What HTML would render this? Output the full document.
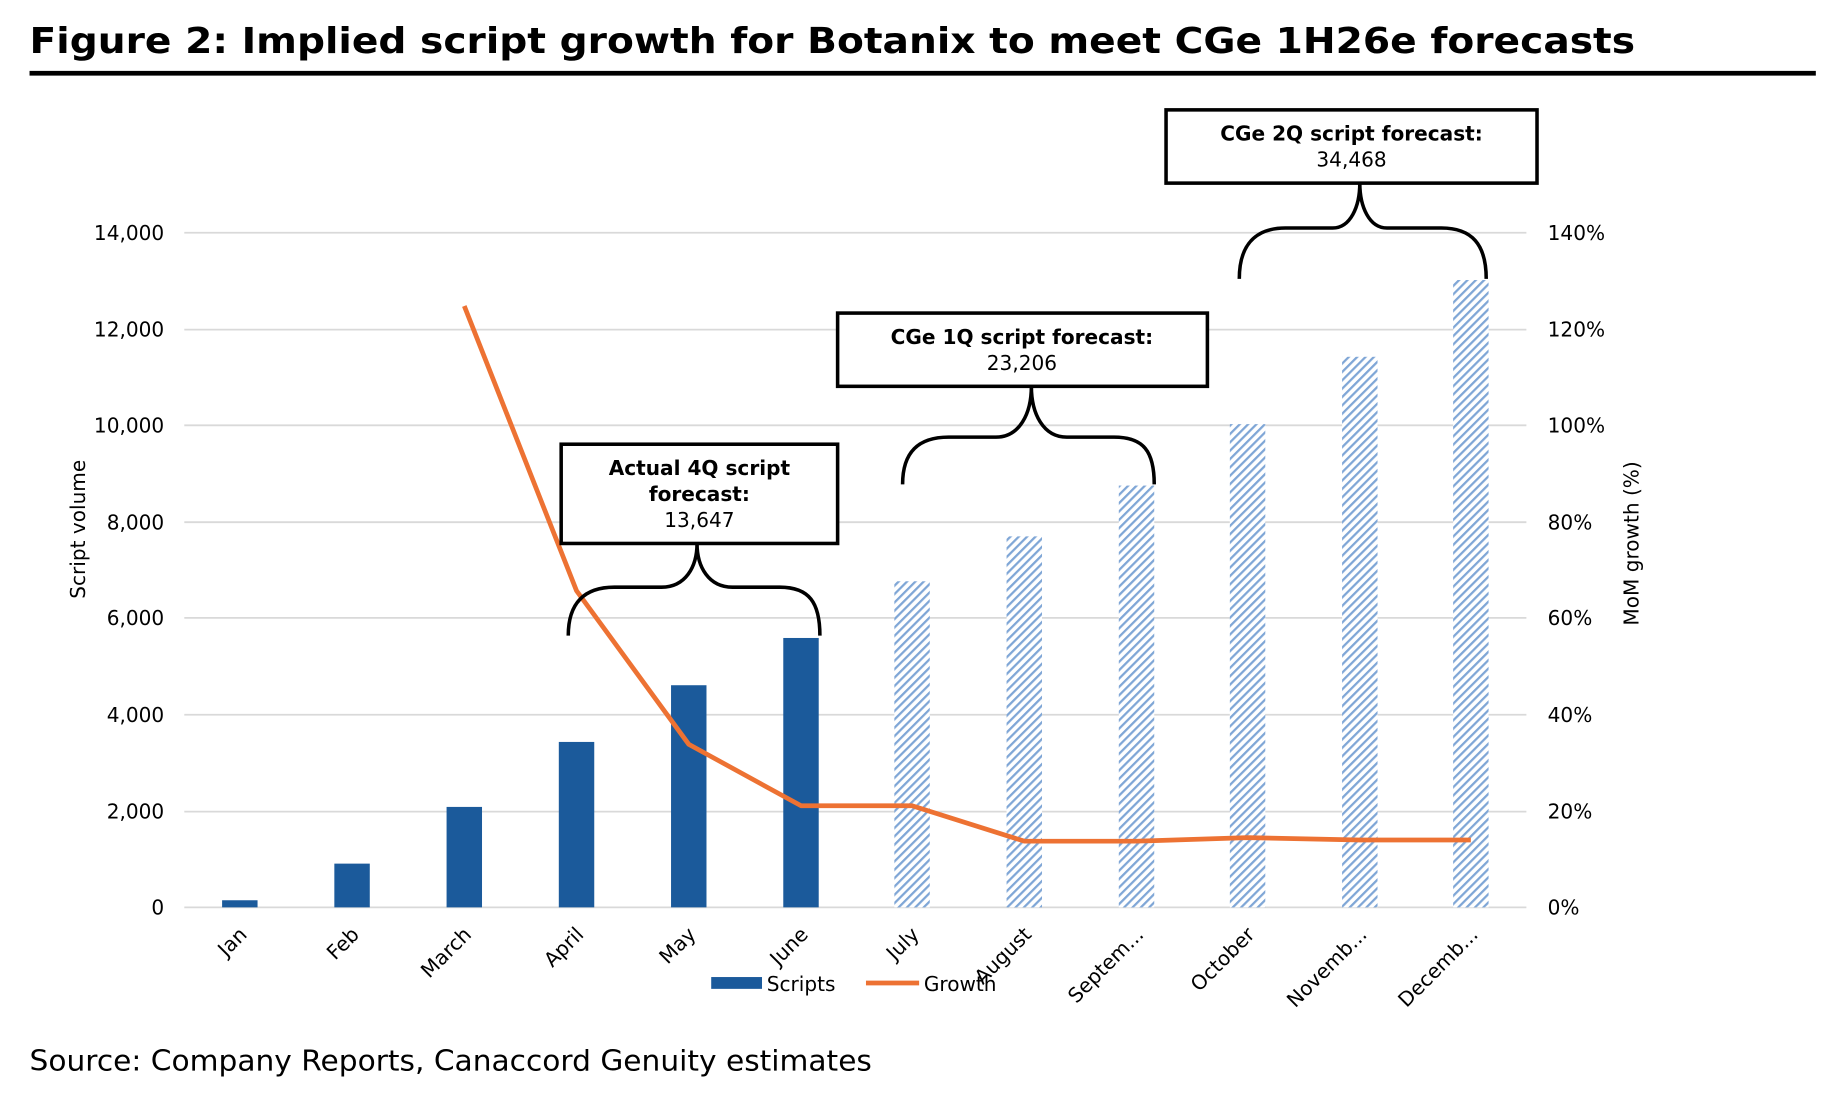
<!DOCTYPE html>
<html><head><meta charset="utf-8"><style>
html,body{margin:0;padding:0;background:#fff;width:1843px;height:1107px;overflow:hidden}
svg{display:block}
text{font-family:"DejaVu Sans","Liberation Sans",sans-serif}
</style></head><body>
<svg width="1843" height="1107" viewBox="0 0 1560 937" preserveAspectRatio="none" xmlns="http://www.w3.org/2000/svg">
<defs>
<pattern id="h" width="5" height="5" patternUnits="userSpaceOnUse" patternTransform="rotate(45)">
<rect width="5" height="5" fill="#fff"/>
<rect x="0" y="0" width="1.9" height="5" fill="#7fa6d6"/>
</pattern>
</defs>
<text x="25" y="45" font-size="30" font-weight="bold" textLength="1359" lengthAdjust="spacingAndGlyphs">Figure 2: Implied script growth for Botanix to meet CGe 1H26e forecasts</text>
<rect x="25" y="60" width="1512" height="4" fill="#000"/>
<g stroke="#d9d9d9" stroke-width="1.5">
<line x1="156" x2="1292" y1="197" y2="197"/>
<line x1="156" x2="1292" y1="279" y2="279"/>
<line x1="156" x2="1292" y1="360" y2="360"/>
<line x1="156" x2="1292" y1="442" y2="442"/>
<line x1="156" x2="1292" y1="523" y2="523"/>
<line x1="156" x2="1292" y1="605" y2="605"/>
<line x1="156" x2="1292" y1="687" y2="687"/>
<line x1="156" x2="1292" y1="768" y2="768"/>
</g>
<g font-size="17" text-anchor="end" fill="#000">
<text x="139" y="203">14,000</text><text x="139" y="285">12,000</text><text x="139" y="366">10,000</text>
<text x="139" y="448">8,000</text><text x="139" y="529">6,000</text><text x="139" y="611">4,000</text>
<text x="139" y="693">2,000</text><text x="139" y="774">0</text>
</g>
<g font-size="17" fill="#000">
<text x="1310" y="203">140%</text><text x="1310" y="285">120%</text><text x="1310" y="366">100%</text>
<text x="1310" y="448">80%</text><text x="1310" y="529">60%</text><text x="1310" y="611">40%</text>
<text x="1310" y="693">20%</text><text x="1310" y="774">0%</text>
</g>
<text transform="translate(72,448) rotate(-90)" font-size="17" text-anchor="middle">Script volume</text>
<text transform="translate(1387,460) rotate(-90)" font-size="17" text-anchor="middle">MoM growth (%)</text>
<g fill="#1b5a9b">
<rect x="188" y="762" width="30" height="6"/>
<rect x="283" y="731" width="30" height="37"/>
<rect x="378" y="683" width="30" height="85"/>
<rect x="473" y="628" width="30" height="140"/>
<rect x="568" y="580" width="30" height="188"/>
<rect x="663" y="540" width="30" height="228"/>
</g>
<g fill="url(#h)">
<rect x="757" y="492" width="30" height="276"/>
<rect x="852" y="454" width="30" height="314"/>
<rect x="947" y="411" width="30" height="357"/>
<rect x="1041" y="359" width="30" height="409"/>
<rect x="1136" y="302" width="30" height="466"/>
<rect x="1230" y="237" width="30" height="531"/>
</g>
<polyline fill="none" stroke="#ed7233" stroke-width="4" stroke-linejoin="round" points="393,259 488,500 583,630 678,682 772,682 867,712 962,712 1056,709 1151,711 1245,711"/>
<g font-size="17" text-anchor="end" fill="#000">
<text transform="translate(210,792) rotate(-45)">Jan</text>
<text transform="translate(305,792) rotate(-45)">Feb</text>
<text transform="translate(400,792) rotate(-45)">March</text>
<text transform="translate(495,792) rotate(-45)">April</text>
<text transform="translate(590,792) rotate(-45)">May</text>
<text transform="translate(685,792) rotate(-45)">June</text>
<text transform="translate(779,792) rotate(-45)">July</text>
<text transform="translate(874,792) rotate(-45)">August</text>
<text transform="translate(969,792) rotate(-45)">Septem...</text>
<text transform="translate(1063,792) rotate(-45)">October</text>
<text transform="translate(1158,792) rotate(-45)">Novemb...</text>
<text transform="translate(1252,792) rotate(-45)">Decemb...</text>
</g>
<rect x="602" y="827" width="43" height="10" fill="#1b5a9b"/>
<text x="649" y="839" font-size="17">Scripts</text>
<line x1="733" y1="832" x2="778" y2="832" stroke="#ed7233" stroke-width="4"/>
<text x="782" y="839" font-size="17">Growth</text>
<g fill="#fff" stroke="#000" stroke-width="3">
<rect x="475" y="376" width="234" height="84"/>
<rect x="709" y="265" width="313" height="62"/>
<rect x="987" y="93" width="314" height="62"/>
</g>
<g font-size="17" text-anchor="middle" fill="#000">
<text x="592" y="402" font-weight="bold">Actual 4Q script</text>
<text x="592" y="424" font-weight="bold">forecast:</text>
<text x="592" y="446">13,647</text>
<text x="865" y="291" font-weight="bold">CGe 1Q script forecast:</text>
<text x="865" y="313">23,206</text>
<text x="1144" y="119" font-weight="bold">CGe 2Q script forecast:</text>
<text x="1144" y="141">34,468</text>
</g>
<g fill="none" stroke="#000" stroke-width="3">
<path d="M481,538 C481,510 495,497 520,497 L560,497 C580,497 590,480 590,460 C590,480 600,497 620,497 L660,497 C685,497 694,510 694,538"/>
<path d="M764,410 C764,382 778,370 803,370 L843,370 C863,370 873,350 873,327 C873,350 883,370 903,370 L943,370 C968,370 977,382 977,410"/>
<path d="M1049,236 C1049,207 1063,193 1088,193 L1128,193 C1143,193 1151,175 1151,155 C1151,175 1159,193 1174,193 L1220,193 C1246,193 1258,207 1258,236"/>
</g>
<text x="25" y="906" font-size="24" fill="#000" textLength="713" lengthAdjust="spacingAndGlyphs">Source: Company Reports, Canaccord Genuity estimates</text>
</svg>
</body></html>
